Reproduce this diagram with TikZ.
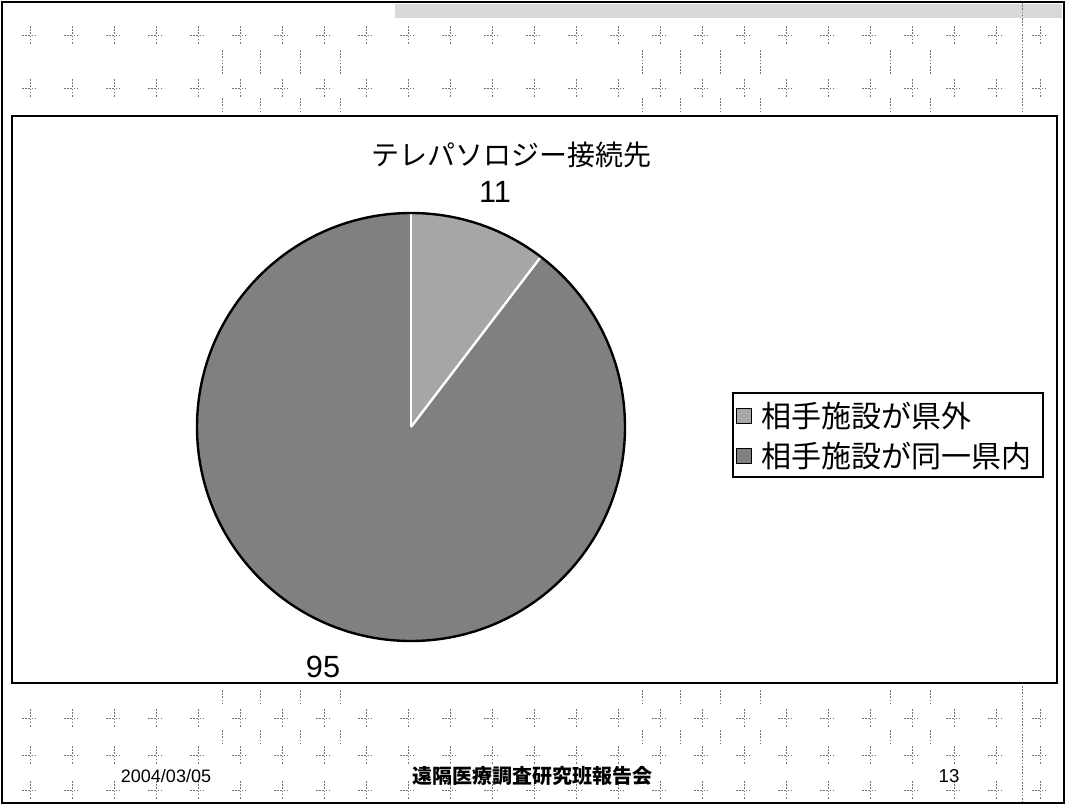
\documentclass[tikz,border=0pt]{standalone}
\usepackage{fontspec}
\setmainfont{Liberation Sans}
\newfontfamily\jp{Noto Sans CJK JP}
\tikzset{
  frame/.style={draw=black, line width=1.4pt},
  bigfill/.style={fill=black!50},
  smallfill/.style={fill=black!35},
  sep/.style={draw=white, line width=1.8pt},
  legbox/.style={draw=black, line width=1.1pt, fill=white},
  swatch/.style={draw=black, line width=0.7pt, minimum size=11pt, inner sep=0pt},
  txt/.style={inner sep=0pt, text=black},
  bgmark/.style={draw=black!55, line width=0.6pt, dash pattern=on 1.2pt off 1.2pt},
}
\begin{document}
\begin{tikzpicture}[x=0.75pt,y=0.75pt]
\useasboundingbox (0,0) rectangle (1066,-806);
\fill[white] (0,0) rectangle (1066,-806);
% halftone strip at top right
\fill[black!15] (395,-4) rectangle (1062,-18);
% background texture marks (top band)
\foreach \yy in {35,88} {
  \foreach \xx in {30,72,114,156,198,240,282,324,366,408,450,492,534,576,618,660,702,744,786,828,870,912,954,996,1040} {
    \draw[bgmark] (\xx-8,-\yy) -- (\xx+6,-\yy);
    \draw[bgmark] (\xx,-\yy+9) -- (\xx,-\yy-9);
  }
}
\foreach \xx in {222,260,300,340,642,680,720,760,890,930} {
  \draw[bgmark] (\xx,-50) -- (\xx,-75);
  \draw[bgmark] (\xx,-98) -- (\xx,-112);
}
\draw[bgmark] (1022,-2) -- (1022,-114);
% background texture marks (bottom band)
\foreach \yy in {718,755,790} {
  \foreach \xx in {30,72,114,156,198,240,282,324,366,408,450,492,534,576,618,660,702,744,786,828,870,912,954,996,1040} {
    \draw[bgmark] (\xx-8,-\yy) -- (\xx+6,-\yy);
    \draw[bgmark] (\xx,-\yy+9) -- (\xx,-\yy-9);
  }
}
\foreach \xx in {222,260,300,340,642,680,720,760,890,930} {
  \draw[bgmark] (\xx,-690) -- (\xx,-705);
  \draw[bgmark] (\xx,-730) -- (\xx,-745);
}
\draw[bgmark] (1022,-686) -- (1022,-804);
% outer slide border
\draw[frame] (2,-2) rectangle (1064,-803);
% chart frame
\draw[frame, fill=white] (12,-116) rectangle (1057,-683);
% title
\node[txt, font=\jp\fontsize{21pt}{25pt}\selectfont] (title) at (511,-155) {テレパソロジー接続先};
% pie
\coordinate (c) at (411,-427);
\fill[bigfill] (c) -- ++(90:214) arc[start angle=90, end angle=412.64, radius=214] -- cycle;
\fill[smallfill] (c) -- ++(52.64:214) arc[start angle=52.64, end angle=90, radius=214] -- cycle;
\draw[sep] (c) -- ++(90:213);
\draw[sep] (c) -- ++(52.64:213);
\draw[black, line width=1.8pt] (c) circle[radius=214];
% data labels
\node[txt, font=\fontsize{23pt}{27pt}\selectfont] (l11) at (495,-192) {11};
\node[txt, font=\fontsize{23pt}{27pt}\selectfont] (l95) at (323,-667) {95};
% legend
\draw[legbox] (733,-393) rectangle (1043,-477);
\node[swatch, smallfill] (s1) at (744,-416) {};
\node[swatch, bigfill] (s2) at (744,-456) {};
\node[txt, anchor=west, font=\jp\fontsize{22.5pt}{26pt}\selectfont] (t1) at (761,-416) {相手施設が県外};
\node[txt, anchor=west, font=\jp\fontsize{22.5pt}{26pt}\selectfont] (t2) at (761,-456) {相手施設が同一県内};
% footer
\node[txt, font=\fontsize{13.5pt}{15pt}\selectfont] (date) at (166,-776) {2004/03/05};
\node[txt, font=\jp\bfseries\fontsize{15pt}{18pt}\selectfont] (foot) at (532,-776) {遠隔医療調査研究班報告会};
\node[txt, font=\fontsize{14pt}{16pt}\selectfont] (page) at (949,-776) {13};
\end{tikzpicture}
\end{document}
